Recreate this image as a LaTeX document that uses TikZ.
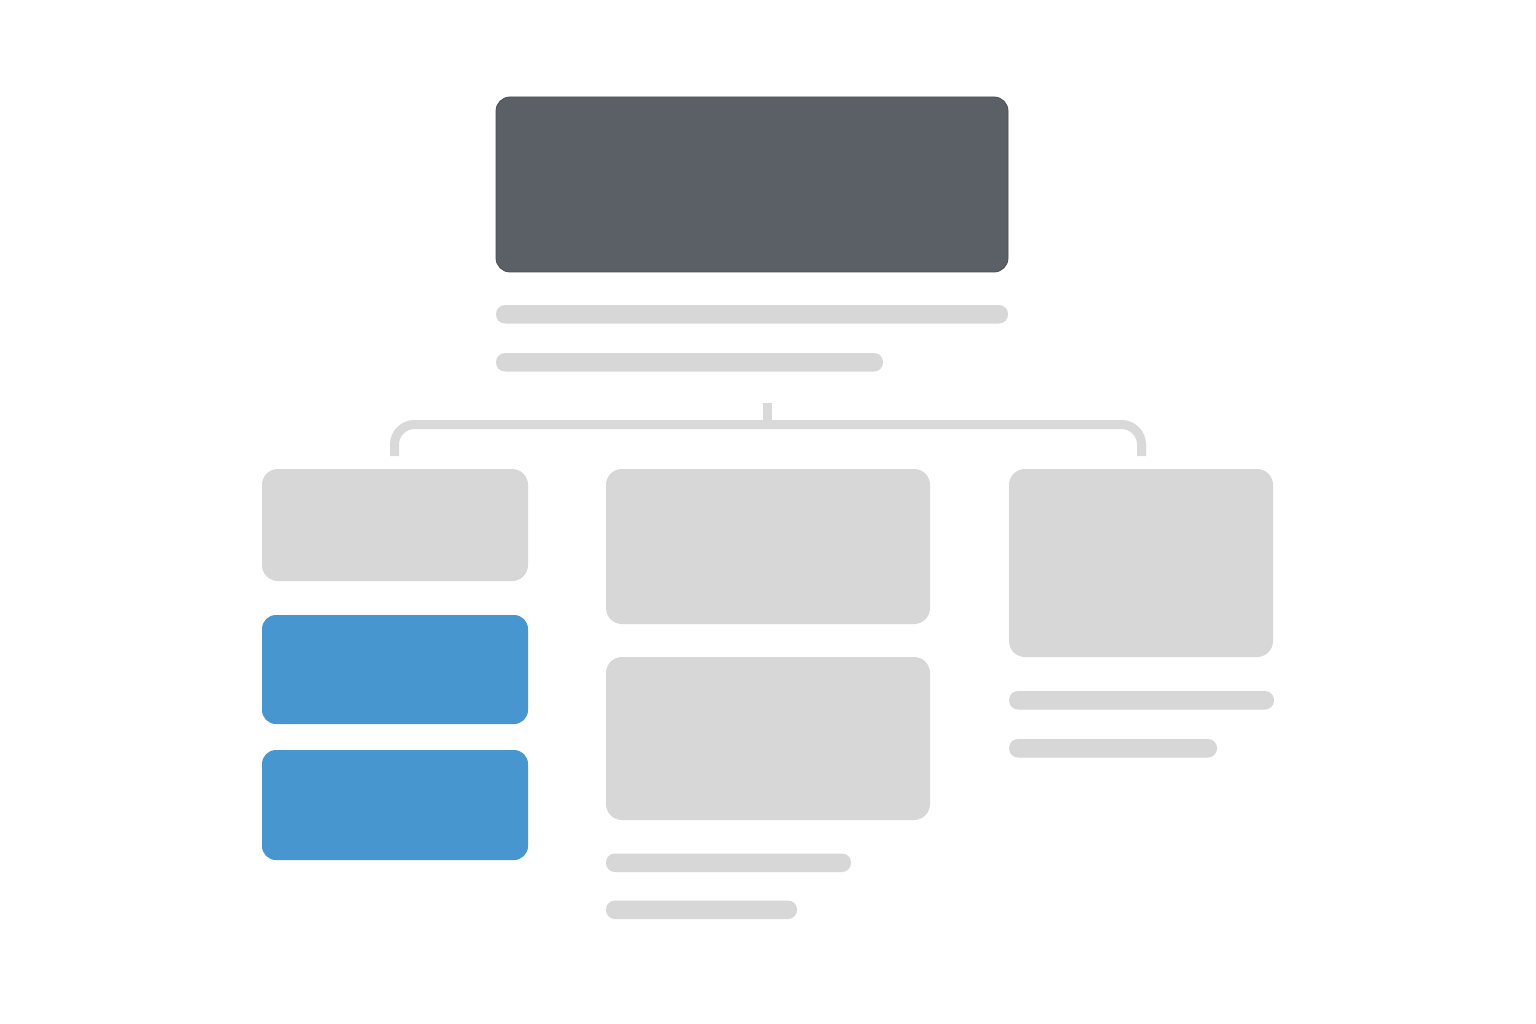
\documentclass[tikz,border=0pt]{standalone}
\usepackage{tikz}
\definecolor{headgray}{HTML}{5B6067}
\definecolor{headedge}{HTML}{4A4E54}
\definecolor{panelgray}{HTML}{D7D7D7}
\definecolor{linegray}{HTML}{D9D9D9}
\definecolor{accentblue}{HTML}{4896D0}
\begin{document}
\begin{tikzpicture}[x=1pt,y=-1pt,
  panel/.style={fill=panelgray, rounded corners=16pt, inner sep=0pt, outer sep=0pt, anchor=north west},
  accent/.style={panel, fill=accentblue, rounded corners=14pt},
  textbar/.style={fill=panelgray, rounded corners=9pt, inner sep=0pt, outer sep=0pt, anchor=north west, minimum height=18.5pt},
  link/.style={draw=linegray, line width=9pt}]
\fill[white] (0,0) rectangle (1536,1024);
\useasboundingbox (0,0) rectangle (1536,1024);

\coordinate (H) at (496,97);
\coordinate (L) at (262,469);
\coordinate (M) at (606,469);
\coordinate (R) at (1009,469);

% header block and its two lines
\node[panel, fill=headgray, draw=headedge, line width=0.8pt, rounded corners=14pt,
  minimum width=512pt, minimum height=175pt] (head) at (H) {};
\node[textbar, minimum width=512pt] (headline1) at (496,305) {};
\node[textbar, minimum width=387pt] (headline2) at (496,353) {};

% connector
\coordinate (stub) at (767.5,403);
\coordinate (lend) at (394.5,456);
\coordinate (lbend) at (394.5,424.5);
\coordinate (rbend) at (1141.5,424.5);
\coordinate (rend) at (1141.5,456);
\draw[link, rounded corners=20pt] (lend) -- (lbend) -- (rbend) -- (rend);
\draw[link] (stub) -- (stub |- lbend);

% left column
\node[panel, minimum width=266pt, minimum height=112pt] (left) at (L) {};
\node[accent, minimum width=266pt, minimum height=109pt] (blue1) at (262,615) {};
\node[accent, minimum width=266pt, minimum height=110pt] (blue2) at (262,750) {};

% middle column
\node[panel, minimum width=324pt, minimum height=155pt] (mid1) at (M) {};
\node[panel, minimum width=324pt, minimum height=163pt] (mid2) at (606,657) {};
\node[textbar, minimum width=245pt] (midline1) at (606,853.5) {};
\node[textbar, minimum width=191pt] (midline2) at (606,900.5) {};

% right column
\node[panel, minimum width=264pt, minimum height=188pt] (right) at (R) {};
\node[textbar, minimum width=265pt] (rightline1) at (1009,691) {};
\node[textbar, minimum width=208pt] (rightline2) at (1009,739) {};
\end{tikzpicture}
\end{document}
